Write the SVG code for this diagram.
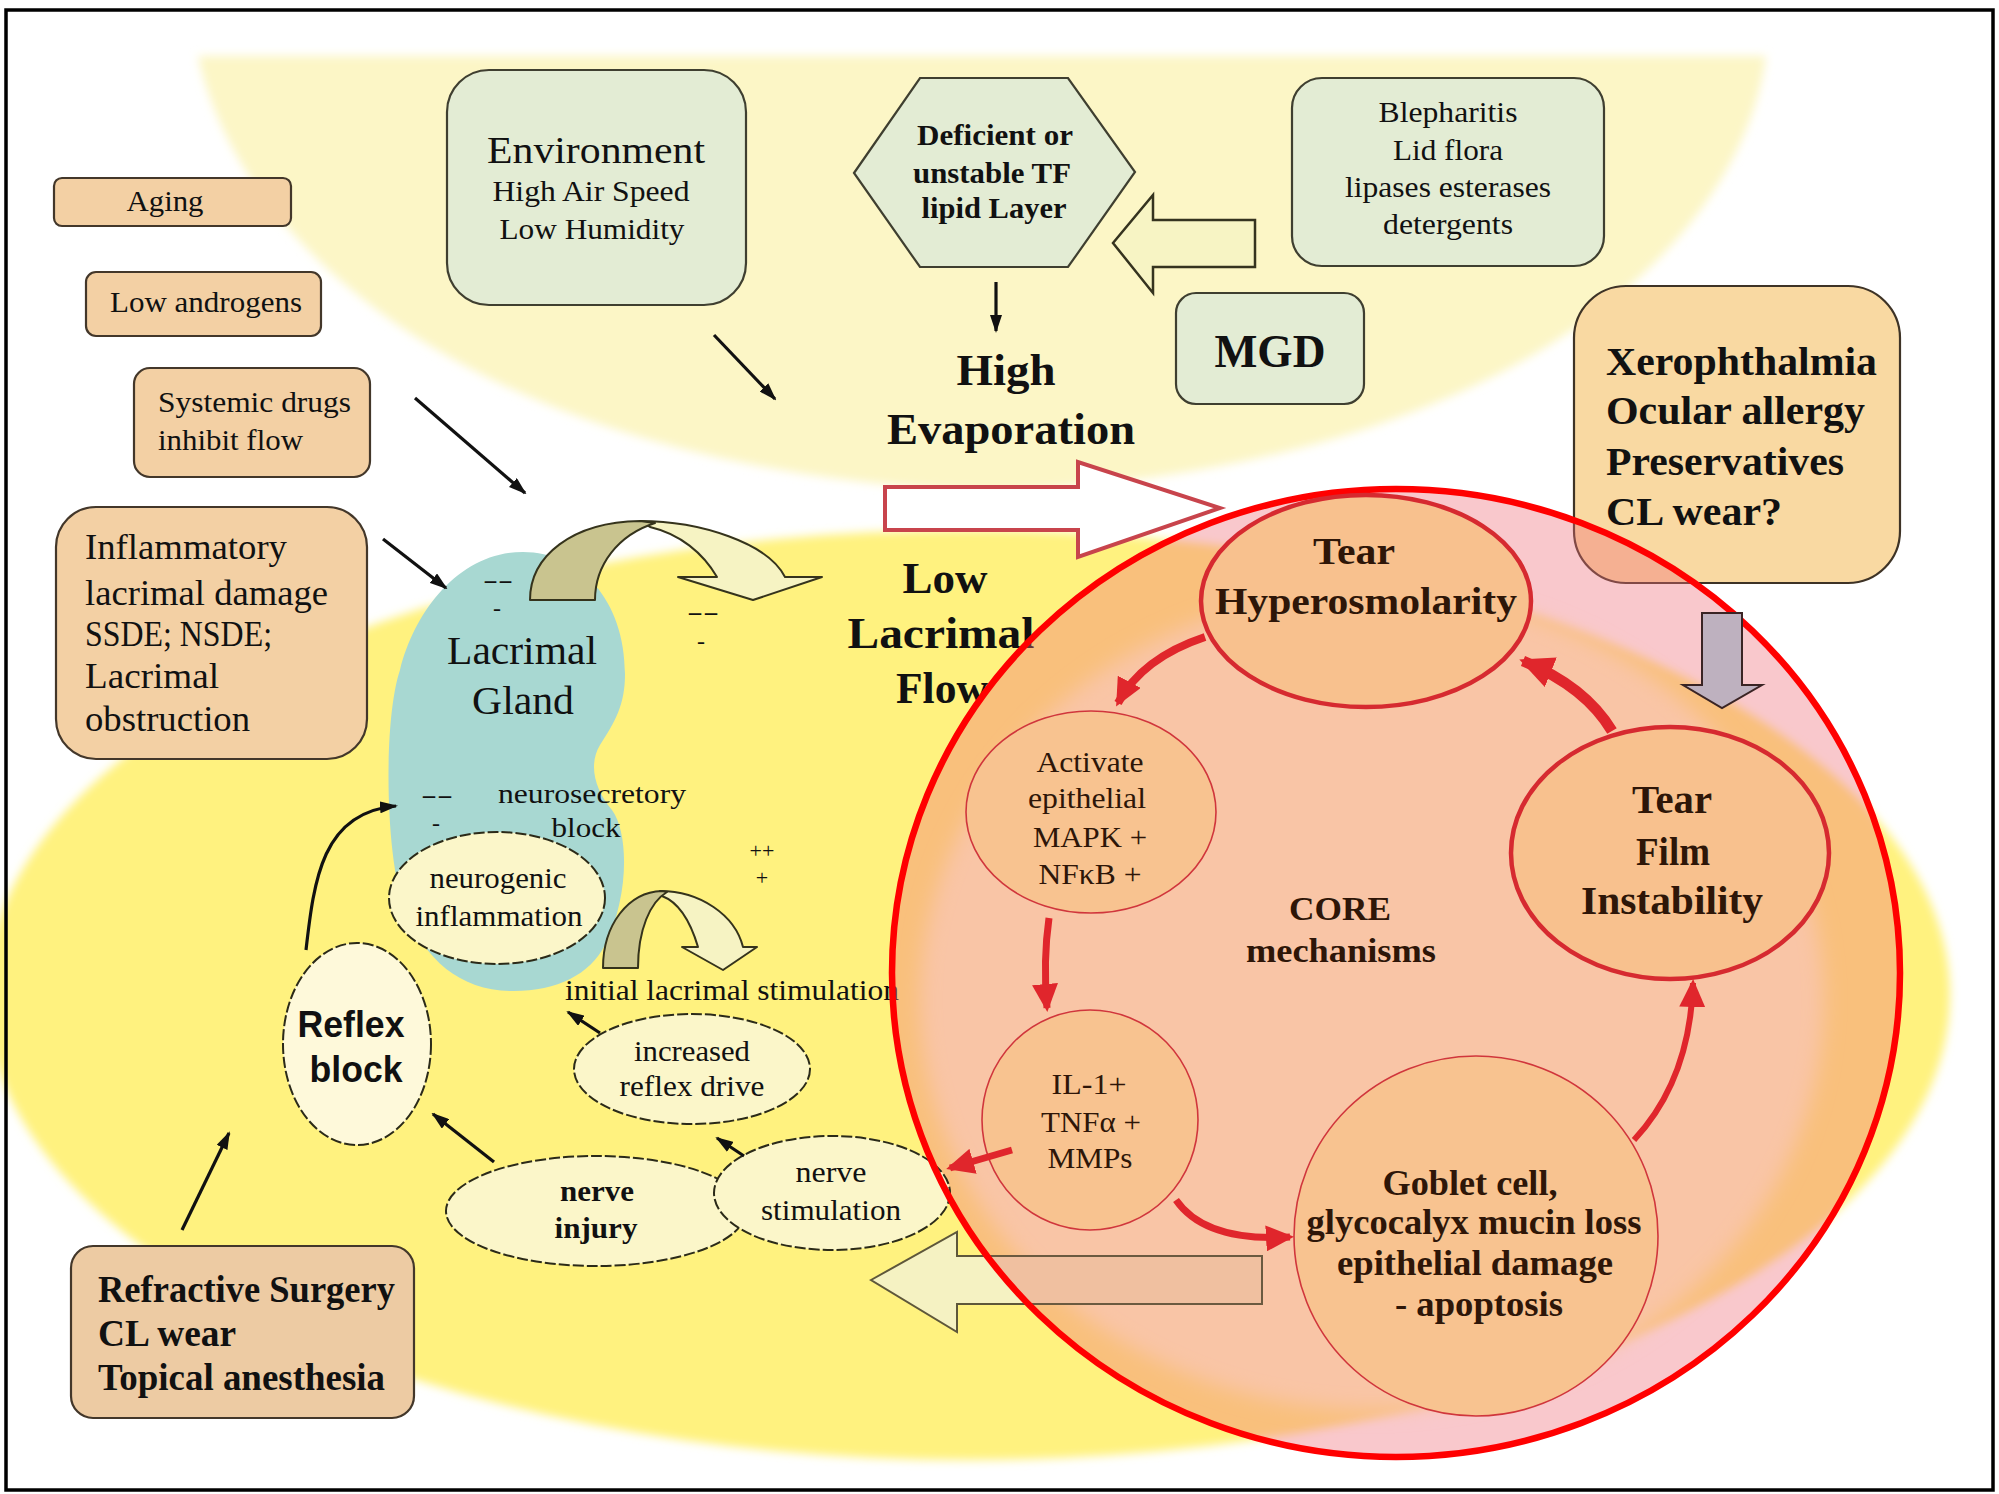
<svg xmlns="http://www.w3.org/2000/svg" width="1999" height="1494" viewBox="0 0 1999 1494">
  <defs>
    <style>
      .serif { font-family: "Liberation Serif", "Times New Roman", serif; fill: #111; }
      .sans { font-family: "Liberation Sans", Arial, sans-serif; fill: #111; }
      .b { font-weight: bold; }
      .mid { text-anchor: middle; }
      .core { fill: #2e1608; }
      .tanbox { fill: #F3D0A4; stroke: #43372a; stroke-width: 2.2; }
      .greenbox { fill: #E3ECD4; stroke: #3f3f30; stroke-width: 2.2; }
      .cream { fill: #FBF6C9; stroke: #2b2a18; stroke-width: 2; stroke-dasharray: 11 3; }
      .thick { fill: #F8C18E; stroke: #D62A30; stroke-width: 4.5; }
      .thin { fill: #F8C390; stroke: #D0363C; stroke-width: 1.6; }
      .blk { stroke: #111; stroke-width: 3.2; fill: none; }
      .red { stroke: #E0262C; fill: none; }
      .sign { font-family: "Liberation Serif", "Times New Roman", serif; fill: #111; text-anchor: middle; font-size: 24px; }
    </style>
    <filter id="soft" x="-5%" y="-5%" width="110%" height="110%">
      <feGaussianBlur stdDeviation="5"/>
    </filter>
    <filter id="softer" x="-8%" y="-8%" width="116%" height="116%">
      <feGaussianBlur stdDeviation="10"/>
    </filter>
    <clipPath id="ringClip">
      <ellipse cx="1396" cy="973" rx="504" ry="484"/>
    </clipPath>
    <marker id="ahBlack" viewBox="0 0 18 12" refX="16" refY="6" markerWidth="18" markerHeight="12" markerUnits="userSpaceOnUse" orient="auto">
      <path d="M0,0 L18,6 L0,12 Z" fill="#111"/>
    </marker>
    <marker id="ahRed" viewBox="0 0 28 26" refX="24" refY="13" markerWidth="28" markerHeight="26" markerUnits="userSpaceOnUse" orient="auto">
      <path d="M0,0 L28,13 L0,26 Z" fill="#E0262C"/>
    </marker>
    <marker id="ahRedBig" viewBox="0 0 34 32" refX="30" refY="16" markerWidth="34" markerHeight="32" markerUnits="userSpaceOnUse" orient="auto">
      <path d="M0,0 L34,16 L0,32 Z" fill="#E0262C"/>
    </marker>
  </defs>

  <!-- page -->
  <rect x="0" y="0" width="1999" height="1494" fill="#ffffff"/>

  <!-- background zones: evaporative (top) and lacrimal (bottom) -->
  <g id="zones">
    <path d="M198,56 L1766,56 C1740,250 1500,470 990,492 C480,470 240,250 198,56 Z" fill="#FCF6C6" filter="url(#soft)"/>
    <ellipse cx="968" cy="995" rx="982" ry="465" fill="#FFF27F" filter="url(#soft)"/>
  </g>

  <!-- factor boxes, left column -->
  <g id="aging">
    <rect class="tanbox" x="54" y="178" width="237" height="48" rx="8"/>
    <text class="serif mid" x="165" y="211" font-size="30" textLength="77" lengthAdjust="spacingAndGlyphs">Aging</text>
  </g>
  <g id="low-androgens">
    <rect class="tanbox" x="86" y="272" width="235" height="64" rx="10"/>
    <text class="serif mid" x="206" y="312" font-size="30" textLength="192" lengthAdjust="spacingAndGlyphs">Low androgens</text>
  </g>
  <g id="systemic-drugs">
    <rect class="tanbox" x="134" y="368" width="236" height="109" rx="16"/>
    <text class="serif" x="158" y="412" font-size="30" textLength="193" lengthAdjust="spacingAndGlyphs">Systemic drugs</text>
    <text class="serif" x="158" y="450" font-size="30" textLength="145" lengthAdjust="spacingAndGlyphs">inhibit flow</text>
  </g>
  <g id="inflammatory-damage">
    <rect class="tanbox" x="56" y="507" width="311" height="252" rx="40"/>
    <text class="serif" x="85" y="559" font-size="35" textLength="202" lengthAdjust="spacingAndGlyphs">Inflammatory</text>
    <text class="serif" x="85" y="605" font-size="35" textLength="243" lengthAdjust="spacingAndGlyphs">lacrimal damage</text>
    <text class="serif" x="85" y="646" font-size="35" textLength="187" lengthAdjust="spacingAndGlyphs">SSDE; NSDE;</text>
    <text class="serif" x="85" y="688" font-size="35" textLength="134" lengthAdjust="spacingAndGlyphs">Lacrimal</text>
    <text class="serif" x="85" y="731" font-size="35" textLength="165" lengthAdjust="spacingAndGlyphs">obstruction</text>
  </g>
  <g id="refractive-surgery">
    <rect class="tanbox" x="71" y="1246" width="343" height="172" rx="22" style="fill:#EDCBA3"/>
    <text class="serif b" x="98" y="1302" font-size="38" textLength="297" lengthAdjust="spacingAndGlyphs">Refractive Surgery</text>
    <text class="serif b" x="98" y="1346" font-size="38" textLength="138" lengthAdjust="spacingAndGlyphs">CL wear</text>
    <text class="serif b" x="98" y="1390" font-size="38" textLength="287" lengthAdjust="spacingAndGlyphs">Topical anesthesia</text>
  </g>

  <!-- evaporative factors -->
  <g id="environment">
    <rect class="greenbox" x="447" y="70" width="299" height="235" rx="42"/>
    <text class="serif mid" x="596" y="163" font-size="38" textLength="218" lengthAdjust="spacingAndGlyphs">Environment</text>
    <text class="serif mid" x="591" y="201" font-size="30" textLength="197" lengthAdjust="spacingAndGlyphs">High Air Speed</text>
    <text class="serif mid" x="592" y="239" font-size="30" textLength="185" lengthAdjust="spacingAndGlyphs">Low Humidity</text>
  </g>
  <g id="lipid-layer">
    <polygon class="greenbox" points="854,173 920,78 1068,78 1135,172 1068,267 920,267"/>
    <text class="serif b mid" x="995" y="145" font-size="29" textLength="156" lengthAdjust="spacingAndGlyphs">Deficient or</text>
    <text class="serif b mid" x="992" y="183" font-size="29" textLength="158" lengthAdjust="spacingAndGlyphs">unstable TF</text>
    <text class="serif b mid" x="994" y="218" font-size="29" textLength="145" lengthAdjust="spacingAndGlyphs">lipid Layer</text>
  </g>
  <g id="blepharitis">
    <rect class="greenbox" x="1292" y="78" width="312" height="188" rx="30"/>
    <text class="serif mid" x="1448" y="122" font-size="29" textLength="139" lengthAdjust="spacingAndGlyphs">Blepharitis</text>
    <text class="serif mid" x="1448" y="160" font-size="29" textLength="110" lengthAdjust="spacingAndGlyphs">Lid flora</text>
    <text class="serif mid" x="1448" y="197" font-size="29" textLength="206" lengthAdjust="spacingAndGlyphs">lipases esterases</text>
    <text class="serif mid" x="1448" y="234" font-size="29" textLength="130" lengthAdjust="spacingAndGlyphs">detergents</text>
  </g>
  <g id="mgd">
    <rect class="greenbox" x="1176" y="293" width="188" height="111" rx="20"/>
    <text class="serif b mid" x="1270" y="367" font-size="46" textLength="111" lengthAdjust="spacingAndGlyphs">MGD</text>
  </g>
  <g id="high-evaporation">
    <text class="serif b mid" x="1006" y="385" font-size="44" textLength="99" lengthAdjust="spacingAndGlyphs">High</text>
    <text class="serif b mid" x="1011" y="444" font-size="44" textLength="248" lengthAdjust="spacingAndGlyphs">Evaporation</text>
  </g>
  <g id="ocular-surface-factors">
    <rect x="1574" y="286" width="326" height="297" rx="52" fill="#F9D9A2" stroke="#3e3326" stroke-width="2.2"/>
    <text class="serif b" x="1606" y="375" font-size="40" textLength="271" lengthAdjust="spacingAndGlyphs">Xerophthalmia</text>
    <text class="serif b" x="1606" y="424" font-size="40" textLength="259" lengthAdjust="spacingAndGlyphs">Ocular allergy</text>
    <text class="serif b" x="1606" y="475" font-size="40" textLength="238" lengthAdjust="spacingAndGlyphs">Preservatives</text>
    <text class="serif b" x="1606" y="525" font-size="40" textLength="176" lengthAdjust="spacingAndGlyphs">CL wear?</text>
  </g>

  <!-- lacrimal side -->
  <g id="low-lacrimal-flow">
    <text class="serif b mid" x="945" y="593" font-size="44" textLength="85" lengthAdjust="spacingAndGlyphs">Low</text>
    <text class="serif b mid" x="941" y="648" font-size="44" textLength="187" lengthAdjust="spacingAndGlyphs">Lacrimal</text>
    <text class="serif b mid" x="942" y="703" font-size="44" textLength="92" lengthAdjust="spacingAndGlyphs">Flow</text>
  </g>
  <g id="lacrimal-gland">
    <path d="M523,552 C580,552 625,600 625,674 C625,705 615,722 600,745 C588,765 595,790 612,810 C630,835 628,900 605,945 C590,975 555,992 510,991 C460,990 425,960 405,910 C385,860 383,720 400,670 C415,610 460,552 523,552 Z" fill="#A8D8D2"/>
    <text class="serif mid" x="522" y="664" font-size="40" textLength="150" lengthAdjust="spacingAndGlyphs">Lacrimal</text>
    <text class="serif mid" x="523" y="714" font-size="40" textLength="102" lengthAdjust="spacingAndGlyphs">Gland</text>
  </g>
  <g id="signs">
    <text class="sign" x="498" y="588" textLength="30" lengthAdjust="spacingAndGlyphs">--</text>
    <text class="sign" x="497" y="616">-</text>
    <text class="sign" x="703" y="620" textLength="32" lengthAdjust="spacingAndGlyphs">--</text>
    <text class="sign" x="701" y="649">-</text>
    <text class="sign" x="437" y="803" textLength="32" lengthAdjust="spacingAndGlyphs">--</text>
    <text class="sign" x="436" y="831">-</text>
    <text class="sign" x="762" y="858" style="font-size:22px">++</text>
    <text class="sign" x="762" y="885" style="font-size:22px">+</text>
  </g>
  <g id="neurosecretory-block">
    <text class="serif mid" x="592" y="803" font-size="28" textLength="188" lengthAdjust="spacingAndGlyphs">neurosecretory</text>
    <text class="serif mid" x="586" y="837" font-size="28" textLength="69" lengthAdjust="spacingAndGlyphs">block</text>
  </g>
  <g id="neurogenic-inflammation">
    <ellipse class="cream" cx="497" cy="898" rx="108" ry="66"/>
    <text class="serif mid" x="498" y="888" font-size="29" textLength="137" lengthAdjust="spacingAndGlyphs">neurogenic</text>
    <text class="serif mid" x="499" y="926" font-size="29" textLength="167" lengthAdjust="spacingAndGlyphs">inflammation</text>
  </g>

  <!-- U-turn arrows on the gland -->
  <g id="uturn-top" stroke="#35331c" stroke-width="2" stroke-linejoin="round">
    <path d="M640,521 C700,521 768,543 785,577 L822,577 L753,600 L678,577 L717,577 C703,553 680,534 650,527 Z" fill="#F6F3C3"/>
    <path d="M530,600 C530,556 572,522 640,521 L655,523 C618,535 595,565 595,600 Z" fill="#C9C48F"/>
  </g>
  <g id="uturn-small" stroke="#35331c" stroke-width="2" stroke-linejoin="round">
    <path d="M660,891 C700,891 735,915 743,947 L757,947 L723,970 L682,947 L698,947 C690,920 678,902 662,896 Z" fill="#F6F3C3"/>
    <path d="M603,968 C603,925 628,892 662,891 L667,892 C650,902 638,930 638,968 Z" fill="#C9C48F"/>
  </g>
  <g id="initial-stimulation">
    <text class="serif mid" x="732" y="1000" font-size="29" textLength="334" lengthAdjust="spacingAndGlyphs">initial lacrimal stimulation</text>
  </g>

  <g id="reflex-block">
    <ellipse cx="357" cy="1044" rx="74" ry="101" fill="#FEF9DA" stroke="#2b2a18" stroke-width="2" stroke-dasharray="11 3"/>
    <text class="sans b mid" x="351" y="1037" font-size="36" textLength="107" lengthAdjust="spacingAndGlyphs">Reflex</text>
    <text class="sans b mid" x="356" y="1082" font-size="36" textLength="93" lengthAdjust="spacingAndGlyphs">block</text>
  </g>
  <g id="increased-reflex-drive">
    <ellipse class="cream" cx="692" cy="1069" rx="118" ry="55"/>
    <text class="serif mid" x="692" y="1061" font-size="29" textLength="116" lengthAdjust="spacingAndGlyphs">increased</text>
    <text class="serif mid" x="692" y="1096" font-size="29" textLength="145" lengthAdjust="spacingAndGlyphs">reflex drive</text>
  </g>
  <g id="nerve-injury">
    <ellipse class="cream" cx="596" cy="1211" rx="150" ry="55"/>
    <text class="serif b mid" x="597" y="1201" font-size="30" textLength="74" lengthAdjust="spacingAndGlyphs">nerve</text>
    <text class="serif b mid" x="596" y="1238" font-size="30" textLength="83" lengthAdjust="spacingAndGlyphs">injury</text>
  </g>

  <!-- hollow arrows -->
  <g id="arrow-tear-film-feedback">
    <polygon points="871,1280 957,1232 957,1256 1262,1256 1262,1304 957,1304 957,1332" fill="#F5F2C2" stroke="#5e573a" stroke-width="2"/>
  </g>
  <g id="arrow-blepharitis">
    <polygon points="1113,243 1153,195 1153,220 1255,220 1255,267 1153,267 1153,293" fill="#F7F4C4" stroke="#35331f" stroke-width="2.5"/>
  </g>
  <g id="arrow-evaporation">
    <polygon points="885,487 1078,487 1078,462 1220,508 1078,557 1078,530 885,530" fill="#ffffff" stroke="#C8444C" stroke-width="4"/>
  </g>

  <!-- core mechanisms zone -->
  <g id="core-zone">
    <ellipse cx="1396" cy="973" rx="504" ry="484" fill="rgb(240,110,120)" fill-opacity="0.38"/>
    <g clip-path="url(#ringClip)">
      <ellipse cx="1372" cy="1000" rx="452" ry="410" fill="#F9C5A6" filter="url(#softer)"/>
      <polygon points="871,1280 957,1232 957,1256 1262,1256 1262,1304 957,1304 957,1332" fill="#F0C0A0" stroke="#6b5a40" stroke-width="2"/>
    </g>
  </g>

  <g id="nerve-stimulation">
    <ellipse class="cream" cx="832" cy="1193" rx="118" ry="57"/>
    <text class="serif mid" x="831" y="1182" font-size="29" textLength="71" lengthAdjust="spacingAndGlyphs">nerve</text>
    <text class="serif mid" x="831" y="1220" font-size="29" textLength="140" lengthAdjust="spacingAndGlyphs">stimulation</text>
  </g>

  <ellipse id="core-outline" cx="1396" cy="973" rx="504" ry="484" fill="none" stroke="#FF0000" stroke-width="6.5"/>

  <!-- core cycle nodes -->
  <g id="tear-hyperosmolarity">
    <ellipse class="thick" cx="1366" cy="601" rx="165" ry="106"/>
    <text class="serif b mid core" x="1354" y="564" font-size="38" textLength="82" lengthAdjust="spacingAndGlyphs">Tear</text>
    <text class="serif b mid core" x="1366" y="614" font-size="38" textLength="302" lengthAdjust="spacingAndGlyphs">Hyperosmolarity</text>
  </g>
  <g id="activate-epithelial">
    <ellipse class="thin" cx="1091" cy="812" rx="125" ry="101"/>
    <text class="serif mid core" x="1090" y="772" font-size="29" textLength="107" lengthAdjust="spacingAndGlyphs">Activate</text>
    <text class="serif mid core" x="1087" y="808" font-size="29" textLength="118" lengthAdjust="spacingAndGlyphs">epithelial</text>
    <text class="serif mid core" x="1090" y="847" font-size="29" textLength="114" lengthAdjust="spacingAndGlyphs">MAPK +</text>
    <text class="serif mid core" x="1090" y="884" font-size="29" textLength="103" lengthAdjust="spacingAndGlyphs">NFκB +</text>
  </g>
  <g id="core-label">
    <text class="serif b mid core" x="1340" y="920" font-size="34" textLength="102" lengthAdjust="spacingAndGlyphs">CORE</text>
    <text class="serif b mid core" x="1341" y="962" font-size="34" textLength="190" lengthAdjust="spacingAndGlyphs">mechanisms</text>
  </g>
  <g id="tear-film-instability">
    <ellipse class="thick" cx="1670" cy="853" rx="159" ry="126"/>
    <text class="serif b mid core" x="1672" y="813" font-size="40" textLength="80" lengthAdjust="spacingAndGlyphs">Tear</text>
    <text class="serif b mid core" x="1673" y="865" font-size="40" textLength="74" lengthAdjust="spacingAndGlyphs">Film</text>
    <text class="serif b mid core" x="1672" y="914" font-size="40" textLength="182" lengthAdjust="spacingAndGlyphs">Instability</text>
  </g>
  <g id="cytokines">
    <ellipse class="thin" cx="1090" cy="1120" rx="108" ry="110"/>
    <text class="serif mid core" x="1089" y="1094" font-size="29" textLength="75" lengthAdjust="spacingAndGlyphs">IL-1+</text>
    <text class="serif mid core" x="1091" y="1132" font-size="29" textLength="100" lengthAdjust="spacingAndGlyphs">TNFα +</text>
    <text class="serif mid core" x="1090" y="1168" font-size="29" textLength="85" lengthAdjust="spacingAndGlyphs">MMPs</text>
  </g>
  <g id="goblet-cell-loss">
    <ellipse class="thin" cx="1476" cy="1236" rx="182" ry="180"/>
    <text class="serif b mid core" x="1470" y="1195" font-size="36" textLength="175" lengthAdjust="spacingAndGlyphs">Goblet cell,</text>
    <text class="serif b mid core" x="1474" y="1234" font-size="36" textLength="335" lengthAdjust="spacingAndGlyphs">glycocalyx mucin loss</text>
    <text class="serif b mid core" x="1475" y="1275" font-size="36" textLength="276" lengthAdjust="spacingAndGlyphs">epithelial damage</text>
    <text class="serif b mid core" x="1479" y="1316" font-size="36" textLength="168" lengthAdjust="spacingAndGlyphs">- apoptosis</text>
  </g>

  <g id="arrow-ocular-factors">
    <polygon points="1702,613 1742,613 1742,685 1762,685 1722,708 1683,685 1702,685" fill="#BEB1BF" stroke="#3a2424" stroke-width="2"/>
  </g>

  <!-- connectors -->
  <g id="connectors">
    <line class="blk" x1="714" y1="335" x2="775" y2="399" marker-end="url(#ahBlack)"/>
    <line class="blk" x1="415" y1="398" x2="525" y2="493" marker-end="url(#ahBlack)"/>
    <line class="blk" x1="383" y1="539" x2="446" y2="588" marker-end="url(#ahBlack)"/>
    <line class="blk" x1="996" y1="282" x2="996" y2="331" marker-end="url(#ahBlack)"/>
    <line class="blk" x1="182" y1="1230" x2="229" y2="1133" marker-end="url(#ahBlack)"/>
    <path class="blk" d="M306,950 C314,880 322,812 396,806" marker-end="url(#ahBlack)"/>
    <line class="blk" x1="494" y1="1162" x2="433" y2="1114" marker-end="url(#ahBlack)"/>
    <line class="blk" x1="744" y1="1156" x2="717" y2="1138" marker-end="url(#ahBlack)"/>
    <line class="blk" x1="600" y1="1033" x2="568" y2="1012" marker-end="url(#ahBlack)"/>

    <path class="red" stroke-width="8" d="M1205,637 Q1142,658 1118,703" marker-end="url(#ahRed)"/>
    <path class="red" stroke-width="7" d="M1049,918 Q1043,960 1047,1008" marker-end="url(#ahRed)"/>
    <path class="red" stroke-width="7" d="M1176,1200 Q1205,1242 1290,1237" marker-end="url(#ahRed)"/>
    <path class="red" stroke-width="6" d="M1634,1140 Q1690,1080 1693,983" marker-end="url(#ahRed)"/>
    <path class="red" stroke-width="11" d="M1612,731 Q1585,686 1523,661" marker-end="url(#ahRedBig)"/>
    <path class="red" stroke-width="7" d="M1012,1150 L950,1168" marker-end="url(#ahRed)"/>
  </g>

  <rect x="6" y="10" width="1987" height="1480" fill="none" stroke="#000" stroke-width="3.5"/>
</svg>
